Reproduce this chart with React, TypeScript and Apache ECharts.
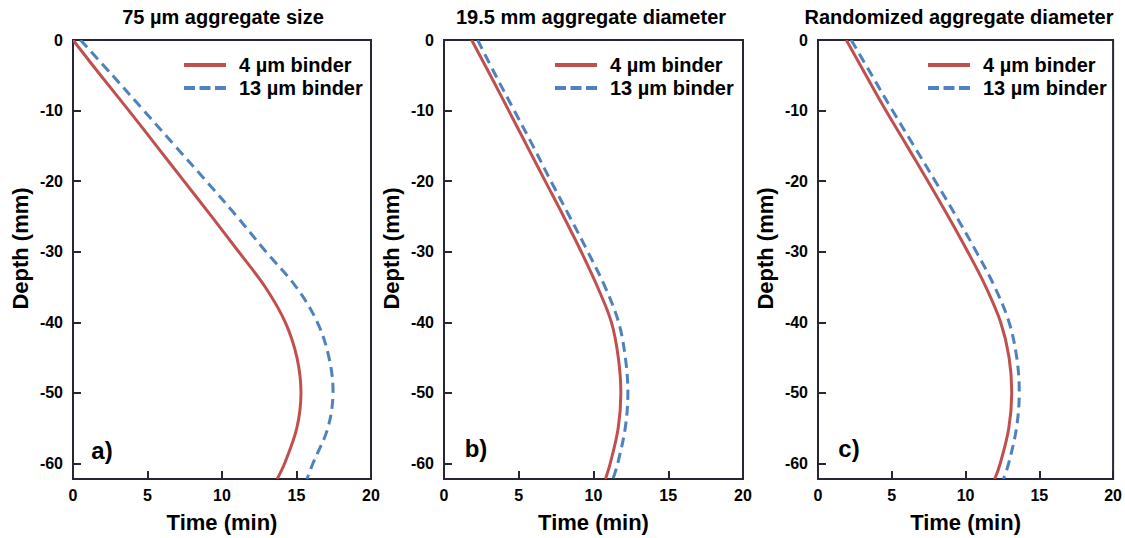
import React, { useEffect, useRef } from "react";
import * as echarts from "echarts";

// Depth levels (mm) at which the curves were read
const DEPTH = [0, -5, -10, -15, -20, -25, -30, -35, -40, -45, -50, -55, -60, -62.2];

// Panel a) 75 µm aggregate size — time (min)
const A_4UM = [0, 1.85, 3.75, 5.6, 7.45, 9.3, 11.12, 12.9, 14.25, 15.03, 15.3, 15.02, 14.2, 13.7];
const A_13UM = [0.5, 2.65, 4.75, 6.85, 8.95, 11.0, 12.95, 14.98, 16.4, 17.18, 17.45, 17.1, 16.1, 15.7];

// Panel b) 19.5 mm aggregate diameter
const B_4UM = [1.85, 3.1, 4.33, 5.55, 6.77, 8.0, 9.18, 10.27, 11.2, 11.66, 11.83, 11.65, 11.12, 10.8];
const B_13UM = [2.25, 3.45, 4.7, 5.95, 7.15, 8.4, 9.62, 10.78, 11.68, 12.13, 12.3, 12.12, 11.62, 11.3];

// Panel c) Randomized aggregate diameter
const C_4UM = [1.92, 3.25, 4.6, 6.03, 7.45, 8.83, 10.15, 11.38, 12.38, 12.95, 13.13, 12.93, 12.35, 11.97];
const C_13UM = [2.25, 3.65, 5.05, 6.5, 7.95, 9.37, 10.73, 11.98, 12.95, 13.47, 13.64, 13.45, 12.92, 12.57];

const TITLES = ["75 µm aggregate size", "19.5 mm aggregate diameter", "Randomized aggregate diameter"];
const LETTERS = ["a)", "b)", "c)"];
const SERIES_NAMES = ["4 µm binder", "13 µm binder"];
const Y_TICKS = [0, -10, -20, -30, -40, -50, -60];
const X_MIN = 0;
const X_MAX = 20;
const X_STEP = 5;
const Y_MIN = -62.2;
const Y_MAX = 0;

const PANEL_DATA = [
  [A_4UM, A_13UM],
  [B_4UM, B_13UM],
  [C_4UM, C_13UM],
];

const FONT = "Liberation Sans, Arial, Helvetica, sans-serif";
const AXIS_COLOR = "#262634";
const RED = "#C0504D";
const BLUE = "#4F81BD";
const COLORS = [RED, BLUE];
const DASHES: any[] = [null, [10, 6]];
const LEGEND_ICONS = [
  "path://M0,0H42V4H0Z",
  "path://M0,0H11V4H0Z M15.5,0H26.5V4H15.5Z M31,0H42V4H31Z",
];

const GRIDS = [
  { left: 73, top: 40, width: 298, height: 443 },
  { left: 444, top: 40, width: 299, height: 439 },
  { left: 818, top: 40, width: 298, height: 439 },
];
const TITLE_X = [223, 591, 959];
const LETTER_POS = [
  [102, 450],
  [476, 448],
  [849, 448],
];
const LEGEND_POS = [
  [179, 50],
  [550, 50],
  [923, 50],
];

export default function App() {
  const ref = useRef<HTMLDivElement>(null);

  useEffect(() => {
    if (!ref.current) return;
    const chart = echarts.init(ref.current, undefined, { renderer: "svg" });

    const zip = (t: number[]) => t.map((v, i) => [v, DEPTH[i]]);

    const series: any[] = [];
    PANEL_DATA.forEach((pair, p) => {
      pair.forEach((times, s) => {
        const pts = zip(times);
        series.push({
          type: "custom",
          name: SERIES_NAMES[s],
          xAxisIndex: p,
          yAxisIndex: p,
          coordinateSystem: "cartesian2d",
          data: pts,
          encode: { x: 0, y: 1 },
          itemStyle: { color: COLORS[s] },
          z: s === 0 ? 3 : 2,
          clip: true,
          renderItem: (params: any, api: any) => {
            if (params.dataIndex !== 0) return null;
            const points = pts.map((d) => api.coord(d));
            return {
              type: "polyline",
              shape: { points, smooth: 0.35 },
              style: {
                fill: "none",
                stroke: COLORS[s],
                lineWidth: 3,
                lineDash: DASHES[s] || undefined,
              },
            };
          },
        });
      });
    });

    const option: any = {
      animation: false,
      backgroundColor: "#ffffff",
      textStyle: { fontFamily: FONT },
      grid: GRIDS.map((g) => ({
        ...g,
        show: true,
        borderColor: AXIS_COLOR,
        borderWidth: 2,
        backgroundColor: "transparent",
      })),
      xAxis: GRIDS.map((_, i) => ({
        type: "value",
        gridIndex: i,
        min: X_MIN,
        max: X_MAX,
        interval: X_STEP,
        position: "bottom",
        axisLine: { show: true, onZero: false, lineStyle: { color: AXIS_COLOR, width: 2 } },
        axisTick: { show: true, inside: true, length: 8, lineStyle: { color: AXIS_COLOR, width: 2 } },
        axisLabel: { fontSize: 16, fontWeight: "bold", color: "#000", margin: 8, fontFamily: FONT },
        splitLine: { show: false },
        name: "Time (min)",
        nameLocation: "middle",
        nameGap: 32,
        nameTextStyle: { fontSize: 22, fontWeight: "bold", color: "#000", fontFamily: FONT },
      })),
      yAxis: GRIDS.map((_, i) => ({
        type: "value",
        gridIndex: i,
        min: Y_MIN,
        max: Y_MAX,
        axisLine: { show: true, onZero: false, lineStyle: { color: AXIS_COLOR, width: 2 } },
        axisTick: {
          show: true,
          inside: true,
          length: 8,
          customValues: Y_TICKS,
          lineStyle: { color: AXIS_COLOR, width: 2 },
        },
        axisLabel: {
          fontSize: 16,
          fontWeight: "bold",
          color: "#000",
          margin: 10,
          customValues: Y_TICKS,
          fontFamily: FONT,
        },
        splitLine: { show: false },
        name: "Depth (mm)",
        nameLocation: "middle",
        nameGap: 42,
        nameRotate: 90,
        nameTextStyle: {
          fontSize: 22,
          fontWeight: "bold",
          color: "#000",
          fontFamily: FONT,
          padding: [0, 0, 0, 22],
        },
      })),
      legend: LEGEND_POS.map(([x, y]) => ({
        data: SERIES_NAMES.map((n, i) => ({ name: n, icon: LEGEND_ICONS[i] })),
        orient: "vertical",
        left: x,
        top: y,
        itemWidth: 42,
        itemHeight: 4,
        itemGap: 3,
        symbolKeepAspect: false,
        selectedMode: false,
        textStyle: {
          fontSize: 20,
          fontWeight: "bold",
          color: "#000",
          fontFamily: FONT,
          padding: [0, 0, 0, 8],
        },
      })),
      graphic: [
        ...TITLES.map((t, i) => ({
          type: "text",
          x: TITLE_X[i],
          y: 17,
          style: {
            text: t,
            fill: "#000",
            font: `bold 20px ${FONT}`,
            textAlign: "center",
            textVerticalAlign: "middle",
          },
        })),
        ...LETTERS.map((t, i) => ({
          type: "text",
          x: LETTER_POS[i][0],
          y: LETTER_POS[i][1],
          z: 10,
          style: {
            text: t,
            fill: "#000",
            font: `bold 24px ${FONT}`,
            textAlign: "center",
            textVerticalAlign: "middle",
          },
        })),
      ],
      series,
    };

    chart.setOption(option);
    return () => chart.dispose();
  }, []);

  return (
    <div
      ref={ref}
      style={{ position: "absolute", left: 0, top: 0, width: 1125, height: 538, background: "#fff" }}
    />
  );
}
